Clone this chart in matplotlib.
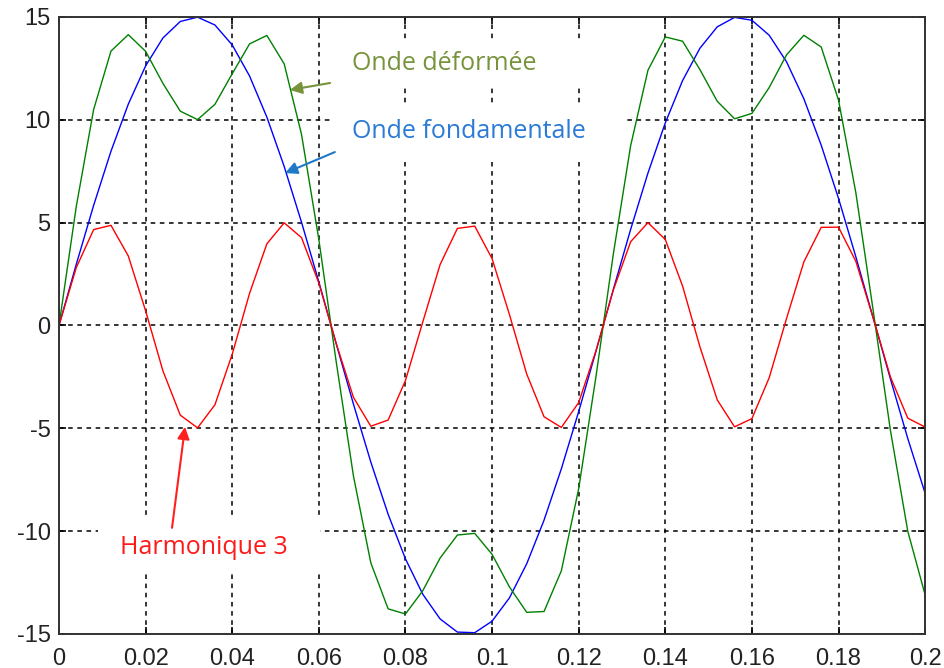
import matplotlib.pyplot as plt

plt.rcParams['axes.unicode_minus'] = False

# time samples, step 0.004 s
t = [round(0.004 * k, 3) for k in range(51)]

fondamentale = [0, 2.98, 5.84, 8.47, 10.76, 12.62, 13.98, 14.78, 14.99, 14.61,
                13.64, 12.13, 10.13, 7.73, 5.02, 2.12, -0.88, -3.83, -6.64, -9.18,
                -11.35, -13.07, -14.27, -14.91, -14.94, -14.38, -13.25, -11.59, -9.47, -6.97,
                -4.19, -1.25, 1.75, 4.67, 7.41, 9.85, 11.91, 13.48, 14.52, 14.98,
                14.84, 14.11, 12.82, 11.02, 8.77, 6.18, 3.34, 0.37, -2.61, -5.50,
                -8.16]

harmonique3 = [0, 2.82, 4.66, 4.87, 3.38, 0.71, -2.21, -4.36, -4.98, -3.86,
               -1.40, 1.56, 3.97, 4.99, 4.27, 2.06, -0.87, -3.50, -4.90, -4.60,
               -2.68, 0.17, 2.96, 4.72, 4.83, 3.25, 0.54, -2.36, -4.44, -4.96,
               -3.75, -1.23, 1.72, 4.07, 5.00, 4.18, 1.91, -1.04, -3.62, -4.93,
               -4.53, -2.54, 0.34, 3.09, 4.77, 4.78, 3.12, 0.37, -2.51, -4.51,
               -4.94]

deformee = [0, 5.80, 10.50, 13.34, 14.14, 13.33, 11.77, 10.42, 10.01, 10.75,
            12.24, 13.69, 14.10, 12.72, 9.29, 4.18, -1.75, -7.33, -11.54, -13.78,
            -14.03, -12.90, -11.31, -10.19, -10.11, -11.13, -12.71, -13.95, -13.91, -11.93,
            -7.94, -2.48, 3.47, 8.74, 12.41, 14.03, 13.82, 12.44, 10.90, 10.05,
            10.31, 11.57, 13.16, 14.11, 13.54, 10.96, 6.46, 0.74, -5.12, -10.01,
            -13.10]

xticks = [0, 0.02, 0.04, 0.06, 0.08, 0.1, 0.12, 0.14, 0.16, 0.18, 0.2]
xlabels = ['0', '0.02', '0.04', '0.06', '0.08', '0.1', '0.12', '0.14', '0.16', '0.18', '0.2']
yticks = [-15, -10, -5, 0, 5, 10, 15]

fig = plt.figure(figsize=(9.44, 6.68), dpi=100)
ax = fig.add_axes([0.0625, 0.051, 0.9175, 0.9236])

ax.plot(t, fondamentale, color='#0000ff', lw=1.0)
ax.plot(t, deformee, color='#008000', lw=1.0)
ax.plot(t, harmonique3, color='#ff0000', lw=1.0)

ax.set_xlim(0, 0.2)
ax.set_ylim(-15, 15)
ax.set_xticks(xticks)
ax.set_xticklabels(xlabels)
ax.set_yticks(yticks)
ax.grid(True, color='black', linestyle=(0, (3, 3)), lw=1.1)
ax.tick_params(direction='in', length=5, width=1.2, top=True, right=True,
               labelsize=17, labelcolor='#222222', pad=6)
ax.tick_params(axis='x', pad=10)
for lab in ax.get_xticklabels() + ax.get_yticklabels():
    lab.set_family('Liberation Sans')
for s in ax.spines.values():
    s.set_linewidth(1.4)
    s.set_color('#333333')

# white boxes behind the labels (they hide the grid)
for x0, y0, w, h in [(0.0626, 11.55, 0.060, 2.33),
                     (0.0626, 7.95, 0.0677, 2.77),
                     (0.0090, -12.03, 0.0513, 2.82)]:
    ax.add_patch(plt.Rectangle((x0, y0), w, h, facecolor='white',
                               edgecolor='none', zorder=2.5))

# annotation arrows
arrow = dict(arrowstyle='-|>', lw=1.5, mutation_scale=18, shrinkA=0, shrinkB=0)
ax.annotate('', xy=(0.0533, 11.45), xytext=(0.0626, 11.79),
            arrowprops=dict(arrow, color='#77933c'), zorder=3)
ax.annotate('', xy=(0.0522, 7.41), xytext=(0.0637, 8.43),
            arrowprops=dict(arrow, color='#1f78c8'), zorder=3)
ax.annotate('', xy=(0.0291, -4.93), xytext=(0.0261, -9.84),
            arrowprops=dict(arrow, color='#ff2020'), zorder=3)

txt = dict(family='Open Sans', fontsize=18, va='center', zorder=3)
ax.text(0.0677, 12.76, 'Onde déformée', color='#77933c', ha='left', **txt)
ax.text(0.0677, 9.41, 'Onde fondamentale', color='#2a7ad6', ha='left', **txt)
ax.text(0.0335, -10.82, 'Harmonique 3', color='#ff1a1a', ha='center', **txt)

fig.savefig('out.png', dpi=100)
